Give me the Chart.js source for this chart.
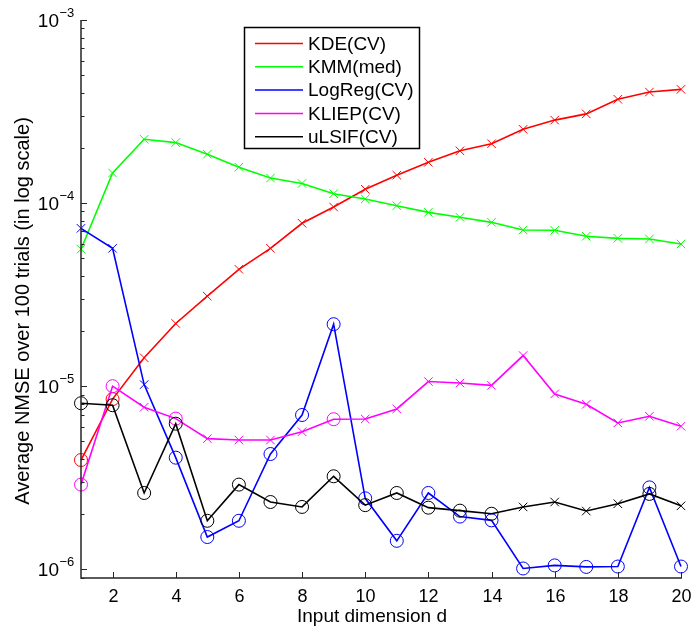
<!DOCTYPE html>
<html>
<head>
<meta charset="utf-8">
<script src="https://cdn.jsdelivr.net/npm/chart.js@4.4.1/dist/chart.umd.min.js"></script>
<style>
  html, body { margin: 0; padding: 0; background: #fff; }
  #wrap { width: 693px; height: 629px; }
</style>
</head>
<body>
<div id="wrap"><canvas id="grafico" width="693" height="629"></canvas></div>
<script>
// dimensao de entrada d
const dims = [1, 2, 3, 4, 5, 6, 7, 8, 9, 10, 11, 12, 13, 14, 15, 16, 17, 18, 19, 20];

// NMSE medio, 'o' = circulo, 'x' = cruz
const kde = [3.95e-6, 8.5e-6, 1.43e-5, 2.2e-5, 3.1e-5, 4.35e-5, 5.66e-5, 7.76e-5, 9.52e-5, 1.19e-4,
             1.42e-4, 1.67e-4, 1.93e-4, 2.11e-4, 2.53e-4, 2.84e-4, 3.07e-4, 3.69e-4, 4.04e-4, 4.18e-4];
const kdeMarks = ['o', 'o', 'x', 'x', 'x', 'x', 'x', 'x', 'x', 'x', 'x', 'x', 'x', 'x', 'x', 'x', 'x', 'x', 'x', 'x'];

const kmm = [5.6e-5, 1.46e-4, 2.23e-4, 2.14e-4, 1.85e-4, 1.57e-4, 1.37e-4, 1.28e-4, 1.125e-4, 1.053e-4,
             9.68e-5, 8.9e-5, 8.36e-5, 7.85e-5, 7.13e-5, 7.1e-5, 6.59e-5, 6.42e-5, 6.37e-5, 5.98e-5];
const kmmMarks = ['x', 'x', 'x', 'x', 'x', 'x', 'x', 'x', 'x', 'x', 'x', 'x', 'x', 'x', 'x', 'x', 'x', 'x', 'x', 'x'];

const logreg = [7.28e-5, 5.66e-5, 1.02e-5, 4.07e-6, 1.5e-6, 1.84e-6, 4.26e-6, 6.96e-6, 2.18e-5, 2.44e-6,
                1.43e-6, 2.61e-6, 1.94e-6, 1.85e-6, 1.01e-6, 1.05e-6, 1.03e-6, 1.035e-6, 2.8e-6, 1.035e-6];
const logregMarks = ['x', 'x', 'x', 'o', 'o', 'o', 'o', 'o', 'o', 'o', 'o', 'o', 'o', 'o', 'o', 'o', 'o', 'o', 'o', 'o'];

const kliep = [2.9e-6, 1.0e-5, 7.67e-6, 6.65e-6, 5.17e-6, 5.08e-6, 5.08e-6, 5.64e-6, 6.6e-6, 6.62e-6,
               7.51e-6, 1.06e-5, 1.04e-5, 1.01e-5, 1.47e-5, 9.07e-6, 7.96e-6, 6.3e-6, 6.85e-6, 6.04e-6];
const kliepMarks = ['o', 'o', 'x', 'o', 'x', 'x', 'x', 'x', 'o', 'x', 'x', 'x', 'x', 'x', 'x', 'x', 'x', 'x', 'x', 'x'];

const ulsif = [8.07e-6, 7.87e-6, 2.61e-6, 6.24e-6, 1.84e-6, 2.9e-6, 2.33e-6, 2.19e-6, 3.22e-6, 2.24e-6,
               2.61e-6, 2.17e-6, 2.09e-6, 2.01e-6, 2.19e-6, 2.33e-6, 2.08e-6, 2.28e-6, 2.58e-6, 2.22e-6];
const ulsifMarks = ['o', 'o', 'o', 'o', 'o', 'o', 'o', 'o', 'o', 'o', 'o', 'o', 'o', 'o', 'x', 'x', 'x', 'x', 'o', 'x'];

const seriesNames = ['KDE(CV)', 'KMM(med)', 'LogReg(CV)', 'KLIEP(CV)', 'uLSIF(CV)'];

// ticks
const xTicks = [2, 4, 6, 8, 10, 12, 14, 16, 18, 20];
const yDecades = [-6, -5, -4, -3];
const xMin = 1, xMax = 20;
const yMin = 8.96e-7, yMax = 1e-3;

const FONTE = "'Liberation Sans', Arial, Helvetica, sans-serif";

function serie(label, vals, marks, cor, idx) {
    return {
        label: label,
        data: dims.map((d, i) => ({ x: d, y: vals[i] })),
        borderColor: cor,
        backgroundColor: 'rgba(0,0,0,0)',
        borderWidth: 1.6,
        tension: 0,
        pointStyle: marks.map(m => m === 'o' ? 'circle' : 'crossRot'),
        pointRadius: marks.map(m => m === 'o' ? 6.5 : 6),
        pointBorderColor: cor,
        pointBackgroundColor: 'rgba(0,0,0,0)',
        pointBorderWidth: 1,
        clip: false,
        order: 4 - idx
    };
}

const cores = ['#ff0000', '#00ff00', '#0000ff', '#ff00ff', '#000000'];

// eixos, rotulos e legenda no estilo matlab
const eixosPlugin = {
    id: 'eixos',
    afterDraw(chart) {
        const ctx = chart.ctx;
        const xs = chart.scales.x, ys = chart.scales.y;
        const a = chart.chartArea;
        ctx.save();

        ctx.strokeStyle = '#262626';
        ctx.lineWidth = 1.5;
        ctx.beginPath();
        ctx.moveTo(a.left, a.top);
        ctx.lineTo(a.left, a.bottom);
        ctx.lineTo(a.right + 1, a.bottom);
        ctx.stroke();

        // ticks do eixo x (para dentro)
        ctx.lineWidth = 1;
        ctx.fillStyle = '#000';
        ctx.font = '18px ' + FONTE;
        ctx.textAlign = 'center';
        ctx.textBaseline = 'alphabetic';
        xTicks.forEach(v => {
            const px = Math.round(xs.getPixelForValue(v)) + 0.5;
            ctx.beginPath();
            ctx.moveTo(px, a.bottom);
            ctx.lineTo(px, a.bottom - 6);
            ctx.stroke();
            ctx.fillText(String(v), px, 602);
        });

        // ticks do eixo y (log)
        for (let e = -7; e <= -3; e++) {
            for (let m = 1; m <= 9; m++) {
                const v = m * Math.pow(10, e);
                if (v < yMin || v > yMax * 1.0001) continue;
                const py = Math.round(ys.getPixelForValue(v)) + 0.5;
                ctx.beginPath();
                ctx.moveTo(a.left, py);
                ctx.lineTo(a.left + (m === 1 ? 6 : 3.5), py);
                ctx.stroke();
            }
        }
        yDecades.forEach(e => {
            const py = ys.getPixelForValue(Math.pow(10, e));
            ctx.textAlign = 'right';
            ctx.font = '19px ' + FONTE;
            ctx.fillText('10', 59, py + 7);
            ctx.textAlign = 'left';
            ctx.font = '13px ' + FONTE;
            ctx.fillText('\u2212' + Math.abs(e), 59.5, py - 3);
        });

        // titulos
        ctx.textAlign = 'center';
        ctx.font = '19px ' + FONTE;
        ctx.fillText('Input dimension d', 372, 622);
        ctx.save();
        ctx.translate(23, 311);
        ctx.rotate(-Math.PI / 2);
        ctx.textBaseline = 'middle';
        ctx.font = '20px ' + FONTE;
        ctx.fillText('Average NMSE over 100 trials (in log scale)', 0, 0);
        ctx.restore();

        // legenda
        ctx.fillStyle = '#fff';
        ctx.fillRect(244.5, 27.5, 175, 121);
        ctx.strokeStyle = '#000';
        ctx.lineWidth = 1.5;
        ctx.strokeRect(244.5, 27.5, 175, 121);
        ctx.font = '19px ' + FONTE;
        ctx.textAlign = 'left';
        ctx.textBaseline = 'middle';
        seriesNames.forEach((nome, i) => {
            const y = 43.5 + i * 23.3;
            ctx.strokeStyle = cores[i];
            ctx.lineWidth = 1.5;
            ctx.beginPath();
            ctx.moveTo(255, y);
            ctx.lineTo(303, y);
            ctx.stroke();
            ctx.fillStyle = '#000';
            ctx.fillText(nome, 308, y + 1);
        });

        ctx.restore();
    }
};

const ctx = document.getElementById('grafico').getContext('2d');

new Chart(ctx, {
    type: 'line',
    data: {
        datasets: [
            serie(seriesNames[0], kde, kdeMarks, cores[0], 0),
            serie(seriesNames[1], kmm, kmmMarks, cores[1], 1),
            serie(seriesNames[2], logreg, logregMarks, cores[2], 2),
            serie(seriesNames[3], kliep, kliepMarks, cores[3], 3),
            serie(seriesNames[4], ulsif, ulsifMarks, cores[4], 4)
        ]
    },
    options: {
        responsive: false,
        animation: false,
        events: [],
        layout: { padding: { left: 81, right: 12, top: 20, bottom: 51 } },
        scales: {
            x: { type: 'linear', min: xMin, max: xMax, display: false },
            y: { type: 'logarithmic', min: yMin, max: yMax, display: false }
        },
        plugins: {
            legend: { display: false },
            tooltip: { enabled: false }
        }
    },
    plugins: [eixosPlugin]
});
</script>
</body>
</html>
